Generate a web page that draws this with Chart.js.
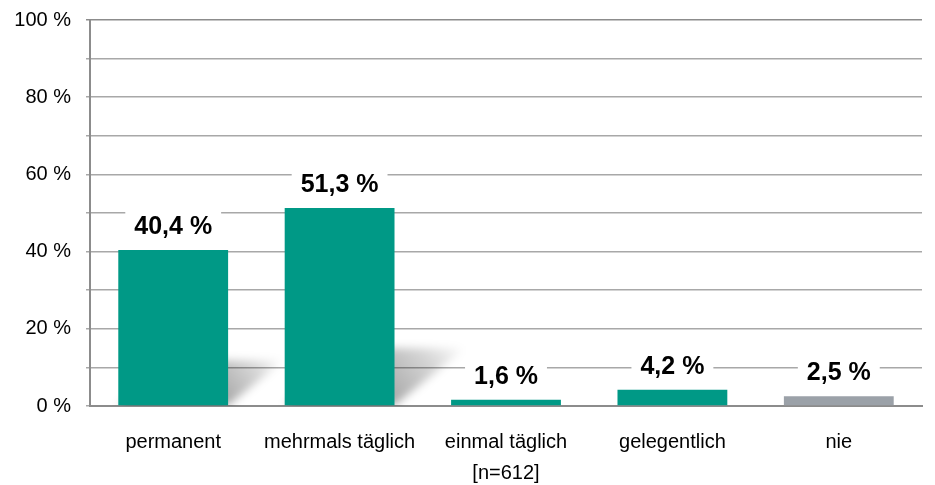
<!DOCTYPE html>
<html>
<head>
<meta charset="utf-8">
<script src="https://cdn.jsdelivr.net/npm/chart.js@4"></script>
<style>
  html, body { margin: 0; padding: 0; background: #fff; }
  #wrap { width: 935px; height: 485px; position: relative; }
</style>
</head>
<body>
<div id="wrap"><canvas id="chart"></canvas></div>
<script>
const categories = ['permanent', 'mehrmals täglich', 'einmal täglich', 'gelegentlich', 'nie'];
const shares = [40.4, 51.3, 1.6, 4.2, 2.5];
const yTicks = [0, 20, 40, 60, 80, 100];
const sampleNote = '[n=612]';

const TEAL = '#009986';
const GREY_BAR = '#9ba1a8';
const FONT = "'Liberation Sans', Arial, sans-serif";

// soft diagonal shadow behind the bars
const barShadows = {
  id: 'barShadows',
  beforeDatasetsDraw(chart) {
    const ctx = chart.ctx;
    const area = chart.chartArea;
    ctx.save();
    ctx.beginPath();
    ctx.rect(area.left, area.top, area.right - area.left, area.bottom - area.top);
    ctx.clip();
    chart.getDatasetMeta(0).data.forEach(bar => {
      const h = bar.base - bar.y;
      if (h < 20) return;
      const half = bar.width / 2;
      const dx = h * 0.36, dy = h * 0.29;
      const grad = ctx.createLinearGradient(bar.x + half, bar.base, bar.x + half + dx, bar.base - dy);
      grad.addColorStop(0, 'rgba(0,0,0,0.34)');
      grad.addColorStop(0.6, 'rgba(0,0,0,0.16)');
      grad.addColorStop(1, 'rgba(0,0,0,0)');
      ctx.filter = 'blur(4px)';
      ctx.fillStyle = grad;
      ctx.beginPath();
      ctx.moveTo(bar.x - half, bar.base);
      ctx.lineTo(bar.x + half, bar.base);
      ctx.lineTo(bar.x + half + dx, bar.base - dy);
      ctx.lineTo(bar.x - half + dx, bar.base - dy);
      ctx.closePath();
      ctx.fill();
    });
    ctx.restore();
  }
};

// value labels on a white box above each bar
const valueLabels = {
  id: 'valueLabels',
  afterDatasetsDraw(chart) {
    const ctx = chart.ctx;
    ctx.save();
    ctx.font = 'bold 25px ' + FONT;
    ctx.textAlign = 'center';
    ctx.textBaseline = 'middle';
    chart.getDatasetMeta(0).data.forEach((bar, i) => {
      const txt = shares[i].toFixed(1).replace('.', ',') + ' %';
      const w = ctx.measureText(txt).width;
      const cy = bar.y - 24;
      ctx.fillStyle = '#fff';
      ctx.fillRect(bar.x - w / 2 - 9, cy - 15, w + 18, 30);
      ctx.fillStyle = '#000';
      ctx.fillText(txt, bar.x, cy + 1);
    });
    ctx.restore();
  }
};

new Chart(document.getElementById('chart'), {
  type: 'bar',
  data: {
    labels: categories,
    datasets: [{
      data: shares,
      backgroundColor: shares.map((v, i) => i === shares.length - 1 ? GREY_BAR : TEAL),
      borderWidth: 0,
      barPercentage: 0.66,
      categoryPercentage: 1
    }]
  },
  options: {
    responsive: true,
    maintainAspectRatio: false,
    animation: false,
    layout: { padding: { top: 20, right: 13, left: 0, bottom: 0 } },
    plugins: {
      legend: { display: false },
      tooltip: { enabled: false }
    },
    scales: {
      x: {
        grid: { display: false },
        border: { display: true, color: '#8c8c8c', width: 2 },
        ticks: { color: '#000', font: { family: FONT, size: 20 }, padding: 16, maxRotation: 0 },
        title: {
          display: true,
          text: sampleNote,
          color: '#000',
          font: { family: FONT, size: 20 },
          padding: { top: 0, bottom: 0 }
        },
        afterFit(scale) { scale.height = 79; }
      },
      y: {
        min: 0,
        max: 100,
        border: { display: true, color: '#8c8c8c', width: 2 },
        grid: {
          color: ctx => ctx.tick && ctx.tick.value === 100 ? '#8c8c8c' : '#a8a8a8',
          lineWidth: 1.5,
          tickLength: 4
        },
        ticks: {
          stepSize: 10,
          padding: 15,
          color: '#000',
          font: { family: FONT, size: 20 },
          callback: v => yTicks.includes(v) ? v + ' %' : ''
        },
        afterFit(scale) {
          scale.width = 90;
          scale.paddingTop = 0;
          scale.paddingBottom = 0;
        }
      }
    }
  },
  plugins: [barShadows, valueLabels]
});
</script>
</body>
</html>
